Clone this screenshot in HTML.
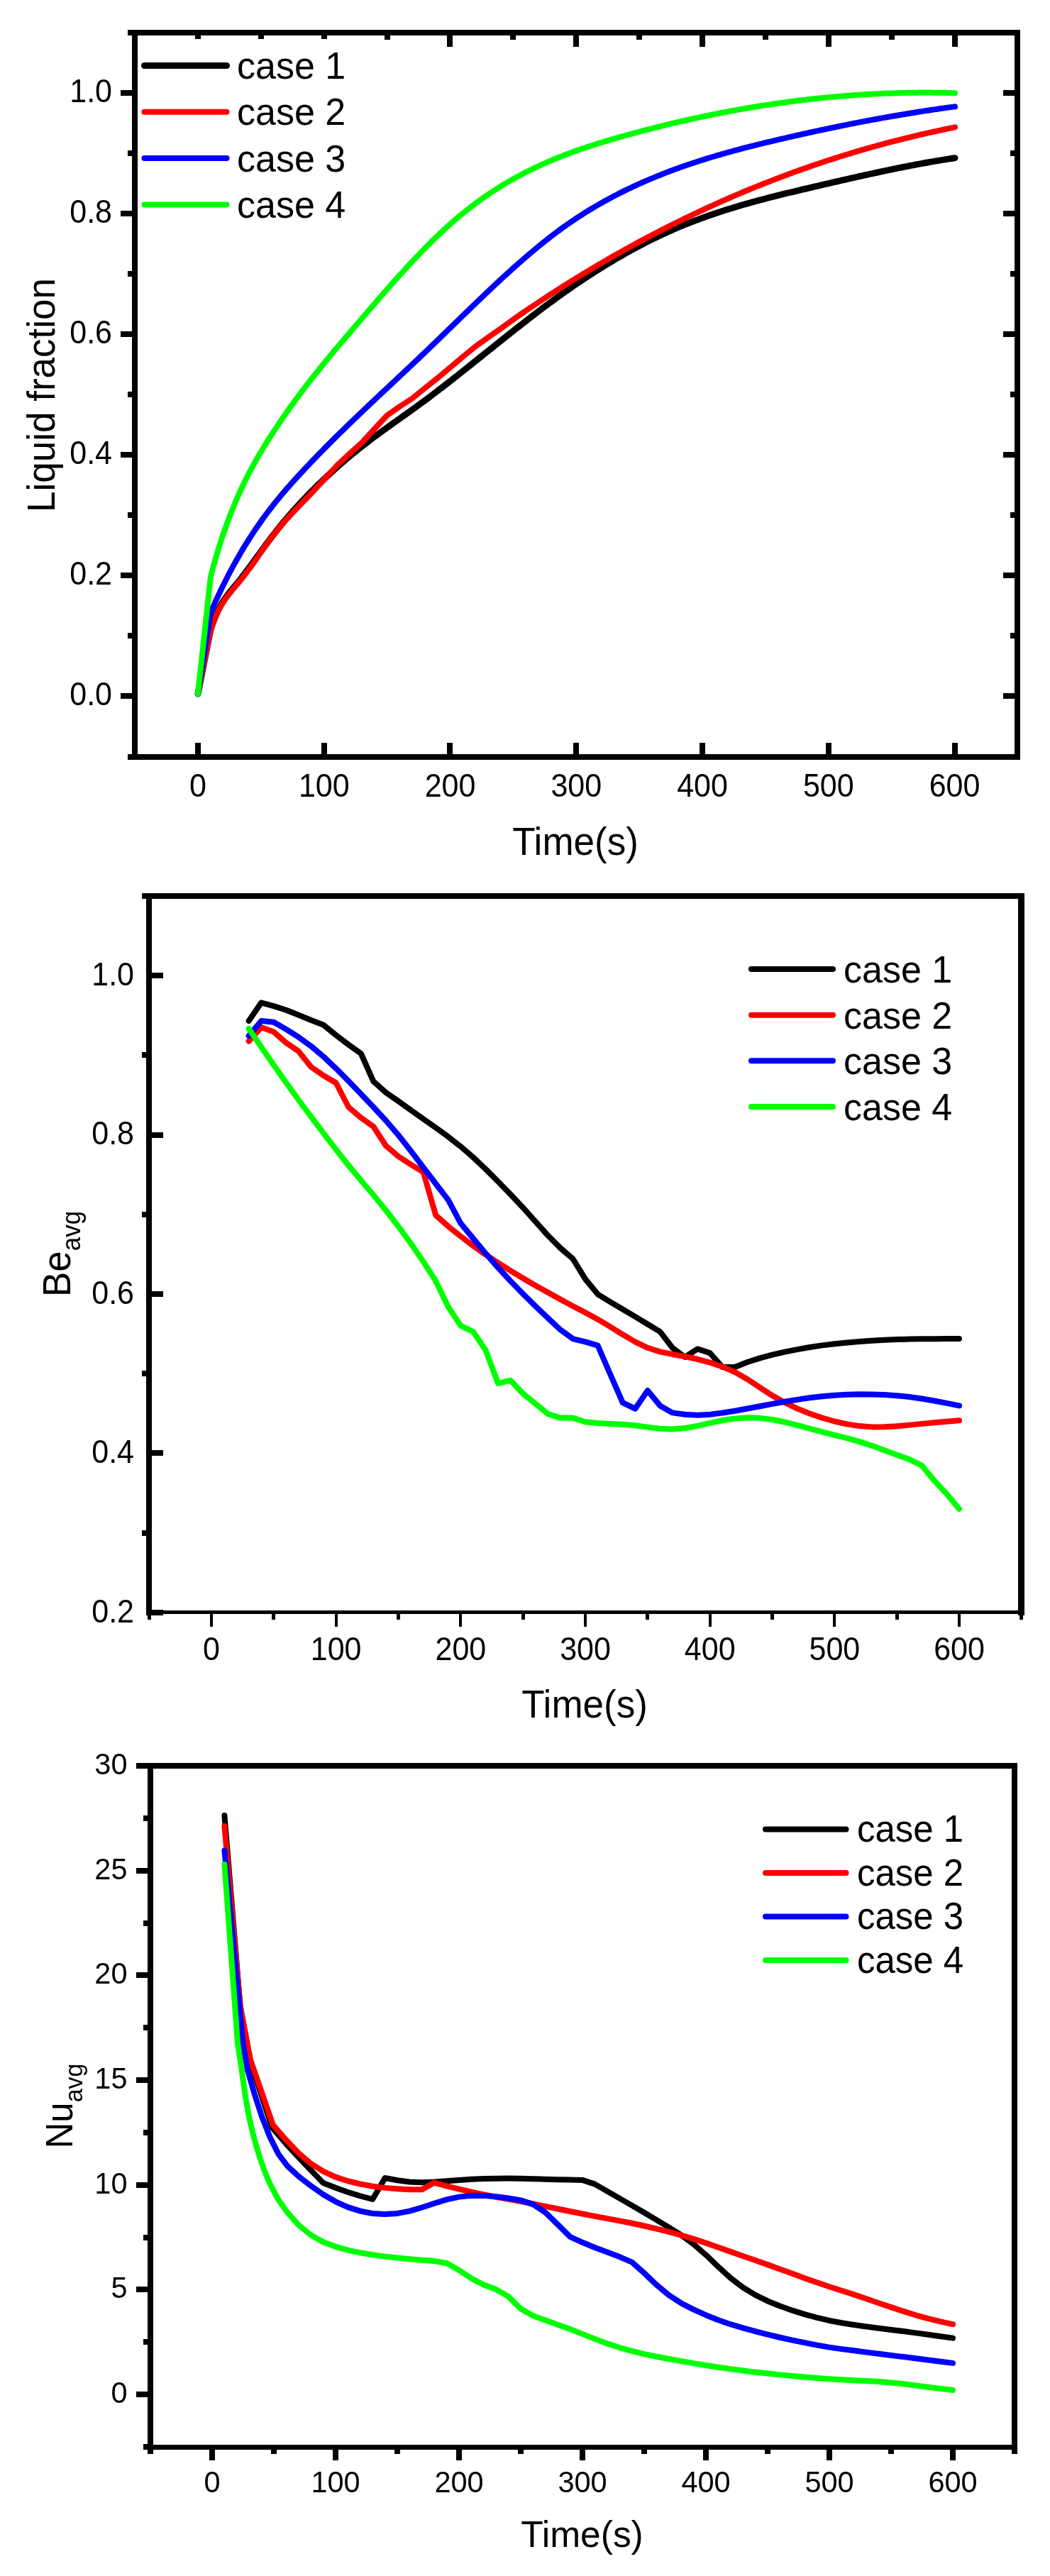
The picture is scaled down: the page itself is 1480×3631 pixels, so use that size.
<!DOCTYPE html>
<html><head><meta charset="utf-8"><style>
html,body{margin:0;padding:0;background:#fff;overflow:hidden;}
svg{display:block;}
svg{will-change:transform;}
text{font-family:'Liberation Sans', sans-serif;fill:#000;}
</style></head><body>
<svg width="1480" height="3631" viewBox="0 0 1480 3631">
<rect x="0" y="0" width="1480" height="3631" fill="#fff"/>
<path d="M279,978 L296.8,887.634 L299.8,878.782 L302.8,870.902 L305.8,863.898 L308.8,857.669 L311.8,852.118 L314.8,847.144 L317.8,842.65 L320.8,838.536 L323.8,834.703 L326.8,831.053 L329.8,827.486 L332.8,823.905 L335.8,820.231 L338.8,816.462 L341.8,812.609 L344.8,808.682 L347.8,804.692 L350.8,800.651 L353.8,796.57 L356.8,792.46 L359.8,788.331 L362.8,784.196 L365.8,780.064 L368.8,775.944 L371.8,771.844 L374.8,767.77 L377.8,763.731 L380.8,759.735 L383.8,755.788 L386.8,751.898 L389.8,748.07 L392.8,744.303 L395.8,740.595 L398.8,736.945 L401.8,733.35 L404.8,729.81 L407.8,726.321 L410.8,722.884 L413.8,719.495 L416.8,716.154 L419.8,712.858 L422.8,709.607 L425.8,706.398 L428.8,703.229 L431.8,700.1 L434.8,697.008 L437.8,693.951 L440.8,690.928 L443.8,687.938 L446.8,684.978 L449.8,682.049 L452.8,679.15 L455.8,676.281 L458.8,673.441 L461.8,670.63 L464.8,667.849 L467.8,665.097 L470.8,662.374 L473.8,659.679 L476.8,657.012 L479.8,654.373 L482.8,651.763 L485.8,649.179 L488.8,646.624 L491.8,644.095 L494.8,641.594 L497.8,639.119 L500.8,636.671 L503.8,634.249 L506.8,631.853 L509.8,629.483 L512.8,627.138 L515.8,624.818 L518.8,622.521 L521.8,620.245 L524.8,617.989 L527.8,615.751 L530.8,613.531 L533.8,611.326 L536.8,609.135 L539.8,606.956 L542.8,604.789 L545.8,602.631 L548.8,600.482 L551.8,598.339 L554.8,596.201 L557.8,594.068 L560.8,591.936 L563.8,589.806 L566.8,587.674 L569.8,585.541 L572.8,583.404 L575.8,581.263 L578.8,579.114 L581.8,576.958 L584.8,574.793 L587.8,572.616 L590.8,570.427 L593.8,568.226 L596.8,566.011 L599.8,563.783 L602.8,561.544 L605.8,559.293 L608.8,557.031 L611.8,554.758 L614.8,552.475 L617.8,550.182 L620.8,547.879 L623.8,545.568 L626.8,543.247 L629.8,540.919 L632.8,538.582 L635.8,536.239 L638.8,533.888 L641.8,531.531 L644.8,529.167 L647.8,526.798 L650.8,524.424 L653.8,522.045 L656.8,519.661 L659.8,517.273 L662.8,514.882 L665.8,512.488 L668.8,510.091 L671.8,507.691 L674.8,505.29 L677.8,502.887 L680.8,500.483 L683.8,498.079 L686.8,495.674 L689.8,493.269 L692.8,490.866 L695.8,488.463 L698.8,486.061 L701.8,483.662 L704.8,481.265 L707.8,478.871 L710.8,476.479 L713.8,474.092 L716.8,471.708 L719.8,469.329 L722.8,466.955 L725.8,464.586 L728.8,462.222 L731.8,459.865 L734.8,457.515 L737.8,455.171 L740.8,452.835 L743.8,450.506 L746.8,448.186 L749.8,445.874 L752.8,443.572 L755.8,441.279 L758.8,438.996 L761.8,436.723 L764.8,434.461 L767.8,432.21 L770.8,429.971 L773.8,427.744 L776.8,425.529 L779.8,423.328 L782.8,421.139 L785.8,418.964 L788.8,416.804 L791.8,414.657 L794.8,412.524 L797.8,410.406 L800.8,408.301 L803.8,406.211 L806.8,404.136 L809.8,402.075 L812.8,400.028 L815.8,397.996 L818.8,395.979 L821.8,393.976 L824.8,391.988 L827.8,390.015 L830.8,388.057 L833.8,386.113 L836.8,384.185 L839.8,382.272 L842.8,380.374 L845.8,378.492 L848.8,376.624 L851.8,374.772 L854.8,372.936 L857.8,371.115 L860.8,369.31 L863.8,367.52 L866.8,365.746 L869.8,363.988 L872.8,362.245 L875.8,360.519 L878.8,358.808 L881.8,357.114 L884.8,355.436 L887.8,353.774 L890.8,352.128 L893.8,350.498 L896.8,348.885 L899.8,347.289 L902.8,345.708 L905.8,344.145 L908.8,342.598 L911.8,341.068 L914.8,339.555 L917.8,338.058 L920.8,336.579 L923.8,335.116 L926.8,333.671 L929.8,332.242 L932.8,330.831 L935.8,329.437 L938.8,328.061 L941.8,326.702 L944.8,325.36 L947.8,324.036 L950.8,322.729 L953.8,321.44 L956.8,320.169 L959.8,318.914 L962.8,317.677 L965.8,316.455 L968.8,315.251 L971.8,314.062 L974.8,312.889 L977.8,311.731 L980.8,310.589 L983.8,309.461 L986.8,308.349 L989.8,307.251 L992.8,306.167 L995.8,305.097 L998.8,304.041 L1001.8,302.998 L1004.8,301.968 L1007.8,300.952 L1010.8,299.948 L1013.8,298.956 L1016.8,297.977 L1019.8,297.009 L1022.8,296.053 L1025.8,295.109 L1028.8,294.175 L1031.8,293.253 L1034.8,292.341 L1037.8,291.439 L1040.8,290.548 L1043.8,289.666 L1046.8,288.794 L1049.8,287.931 L1052.8,287.077 L1055.8,286.232 L1058.8,285.396 L1061.8,284.567 L1064.8,283.747 L1067.8,282.935 L1070.8,282.13 L1073.8,281.332 L1076.8,280.541 L1079.8,279.757 L1082.8,278.979 L1085.8,278.208 L1088.8,277.442 L1091.8,276.683 L1094.8,275.928 L1097.8,275.179 L1100.8,274.435 L1103.8,273.695 L1106.8,272.96 L1109.8,272.228 L1112.8,271.501 L1115.8,270.777 L1118.8,270.057 L1121.8,269.34 L1124.8,268.625 L1127.8,267.913 L1130.8,267.204 L1133.8,266.496 L1136.8,265.791 L1139.8,265.086 L1142.8,264.384 L1145.8,263.682 L1148.8,262.981 L1151.8,262.28 L1154.8,261.58 L1157.8,260.88 L1160.8,260.181 L1163.8,259.483 L1166.8,258.786 L1169.8,258.09 L1172.8,257.395 L1175.8,256.701 L1178.8,256.008 L1181.8,255.317 L1184.8,254.627 L1187.8,253.939 L1190.8,253.252 L1193.8,252.568 L1196.8,251.885 L1199.8,251.205 L1202.8,250.526 L1205.8,249.85 L1208.8,249.176 L1211.8,248.505 L1214.8,247.836 L1217.8,247.17 L1220.8,246.506 L1223.8,245.846 L1226.8,245.189 L1229.8,244.534 L1232.8,243.883 L1235.8,243.235 L1238.8,242.591 L1241.8,241.95 L1244.8,241.312 L1247.8,240.679 L1250.8,240.049 L1253.8,239.423 L1256.8,238.802 L1259.8,238.184 L1262.8,237.571 L1265.8,236.962 L1268.8,236.357 L1271.8,235.757 L1274.8,235.162 L1277.8,234.572 L1280.8,233.986 L1283.8,233.405 L1286.8,232.83 L1289.8,232.26 L1292.8,231.695 L1295.8,231.135 L1298.8,230.581 L1301.8,230.033 L1304.8,229.49 L1307.8,228.953 L1310.8,228.422 L1313.8,227.897 L1316.8,227.379 L1319.8,226.866 L1322.8,226.36 L1325.8,225.861 L1328.8,225.368 L1331.8,224.881 L1334.8,224.402 L1337.8,223.929 L1340.8,223.463 L1343.8,223.005 L1346,222.673" fill="none" stroke="#000000" stroke-width="9" stroke-linejoin="round" stroke-linecap="round"/>
<path d="M279,978 L296.8,888.47 L299.8,879.831 L302.8,872.109 L305.8,865.214 L308.8,859.055 L311.8,853.543 L314.8,848.587 L317.8,844.098 L320.8,839.985 L323.8,836.159 L326.8,832.529 L329.8,829.006 L332.8,825.499 L335.8,821.925 L338.8,818.256 L341.8,814.493 L344.8,810.641 L347.8,806.7 L350.8,802.675 L353.8,798.567 L356.8,794.378 L359.8,790.113 L362.8,785.773 L365.8,781.363 L368.8,776.923 L371.8,772.516 L374.8,768.209 L377.8,764.034 L380.8,759.985 L383.8,756.052 L386.8,752.227 L389.8,748.499 L392.8,744.862 L395.8,741.309 L398.8,737.832 L401.8,734.424 L404.8,731.078 L407.8,727.788 L410.8,724.545 L413.8,721.344 L416.8,718.177 L419.8,715.037 L422.8,711.917 L425.8,708.81 L428.8,705.709 L431.8,702.607 L434.8,699.496 L437.8,696.37 L440.8,693.222 L443.8,690.045 L446.8,686.832 L449.8,683.584 L452.8,680.311 L455.8,677.02 L458.8,673.72 L461.8,670.418 L464.8,667.124 L467.8,663.845 L470.8,660.59 L473.8,657.367 L474.5,656.4 L492.3,640 L510.1,624 L527.9,604.5 L545.6,585.5 L563.4,573 L581.2,561.5 L599,547 L616.7,533 L634.5,518 L652.3,503 L670,488.5 L687.8,475.8 L705.6,463.2 L723.4,450.5 L731.8,444.459 L734.8,442.402 L737.8,440.352 L740.8,438.311 L743.8,436.278 L746.8,434.253 L749.8,432.237 L752.8,430.228 L755.8,428.227 L758.8,426.235 L761.8,424.25 L764.8,422.274 L767.8,420.305 L770.8,418.345 L773.8,416.393 L776.8,414.448 L779.8,412.512 L782.8,410.583 L785.8,408.663 L788.8,406.75 L791.8,404.846 L794.8,402.949 L797.8,401.061 L800.8,399.18 L803.8,397.307 L806.8,395.443 L809.8,393.586 L812.8,391.737 L815.8,389.895 L818.8,388.062 L821.8,386.237 L824.8,384.419 L827.8,382.61 L830.8,380.808 L833.8,379.014 L836.8,377.227 L839.8,375.449 L842.8,373.678 L845.8,371.915 L848.8,370.16 L851.8,368.413 L854.8,366.674 L857.8,364.942 L860.8,363.218 L863.8,361.501 L866.8,359.793 L869.8,358.092 L872.8,356.399 L875.8,354.713 L878.8,353.035 L881.8,351.365 L884.8,349.703 L887.8,348.048 L890.8,346.401 L893.8,344.761 L896.8,343.129 L899.8,341.505 L902.8,339.888 L905.8,338.279 L908.8,336.678 L911.8,335.084 L914.8,333.497 L917.8,331.919 L920.8,330.347 L923.8,328.784 L926.8,327.228 L929.8,325.679 L932.8,324.138 L935.8,322.604 L938.8,321.078 L941.8,319.559 L944.8,318.048 L947.8,316.544 L950.8,315.048 L953.8,313.559 L956.8,312.078 L959.8,310.604 L962.8,309.137 L965.8,307.678 L968.8,306.226 L971.8,304.782 L974.8,303.345 L977.8,301.915 L980.8,300.493 L983.8,299.078 L986.8,297.671 L989.8,296.27 L992.8,294.878 L995.8,293.492 L998.8,292.114 L1001.8,290.743 L1004.8,289.379 L1007.8,288.022 L1010.8,286.673 L1013.8,285.331 L1016.8,283.997 L1019.8,282.669 L1022.8,281.349 L1025.8,280.036 L1028.8,278.73 L1031.8,277.431 L1034.8,276.14 L1037.8,274.856 L1040.8,273.579 L1043.8,272.309 L1046.8,271.046 L1049.8,269.79 L1052.8,268.542 L1055.8,267.3 L1058.8,266.066 L1061.8,264.839 L1064.8,263.619 L1067.8,262.406 L1070.8,261.2 L1073.8,260.001 L1076.8,258.809 L1079.8,257.625 L1082.8,256.447 L1085.8,255.276 L1088.8,254.112 L1091.8,252.956 L1094.8,251.806 L1097.8,250.663 L1100.8,249.528 L1103.8,248.399 L1106.8,247.277 L1109.8,246.162 L1112.8,245.054 L1115.8,243.953 L1118.8,242.859 L1121.8,241.772 L1124.8,240.692 L1127.8,239.619 L1130.8,238.552 L1133.8,237.492 L1136.8,236.44 L1139.8,235.394 L1142.8,234.355 L1145.8,233.323 L1148.8,232.297 L1151.8,231.279 L1154.8,230.267 L1157.8,229.262 L1160.8,228.264 L1163.8,227.272 L1166.8,226.288 L1169.8,225.31 L1172.8,224.339 L1175.8,223.374 L1178.8,222.417 L1181.8,221.466 L1184.8,220.522 L1187.8,219.584 L1190.8,218.653 L1193.8,217.729 L1196.8,216.812 L1199.8,215.901 L1202.8,214.997 L1205.8,214.099 L1208.8,213.208 L1211.8,212.324 L1214.8,211.446 L1217.8,210.575 L1220.8,209.711 L1223.8,208.853 L1226.8,208.002 L1229.8,207.157 L1232.8,206.319 L1235.8,205.487 L1238.8,204.662 L1241.8,203.844 L1244.8,203.032 L1247.8,202.226 L1250.8,201.427 L1253.8,200.635 L1256.8,199.849 L1259.8,199.069 L1262.8,198.296 L1265.8,197.529 L1268.8,196.769 L1271.8,196.015 L1274.8,195.268 L1277.8,194.527 L1280.8,193.793 L1283.8,193.064 L1286.8,192.343 L1289.8,191.627 L1292.8,190.918 L1295.8,190.216 L1298.8,189.519 L1301.8,188.829 L1304.8,188.146 L1307.8,187.469 L1310.8,186.798 L1313.8,186.133 L1316.8,185.474 L1319.8,184.822 L1322.8,184.177 L1325.8,183.537 L1328.8,182.904 L1331.8,182.277 L1334.8,181.656 L1337.8,181.041 L1340.8,180.433 L1343.8,179.83 L1346,179.393" fill="none" stroke="#ff0000" stroke-width="8" stroke-linejoin="round" stroke-linecap="round"/>
<path d="M279,978 L296.8,863.657 L299.8,856.805 L302.8,850.1 L305.8,843.538 L308.8,837.116 L311.8,830.832 L314.8,824.682 L317.8,818.664 L320.8,812.775 L323.8,807.011 L326.8,801.37 L329.8,795.849 L332.8,790.445 L335.8,785.155 L338.8,779.976 L341.8,774.905 L344.8,769.939 L347.8,765.076 L350.8,760.312 L353.8,755.645 L356.8,751.071 L359.8,746.588 L362.8,742.192 L365.8,737.881 L368.8,733.652 L371.8,729.502 L374.8,725.428 L377.8,721.427 L380.8,717.496 L383.8,713.632 L386.8,709.833 L389.8,706.095 L392.8,702.415 L395.8,698.791 L398.8,695.219 L401.8,691.697 L404.8,688.222 L407.8,684.79 L410.8,681.399 L413.8,678.047 L416.8,674.729 L419.8,671.443 L422.8,668.187 L425.8,664.957 L428.8,661.75 L431.8,658.563 L434.8,655.395 L437.8,652.244 L440.8,649.111 L443.8,645.995 L446.8,642.896 L449.8,639.812 L452.8,636.744 L455.8,633.691 L458.8,630.652 L461.8,627.628 L464.8,624.617 L467.8,621.62 L470.8,618.635 L473.8,615.663 L476.8,612.702 L479.8,609.753 L482.8,606.815 L485.8,603.887 L488.8,600.97 L491.8,598.062 L494.8,595.163 L497.8,592.273 L500.8,589.391 L503.8,586.517 L506.8,583.65 L509.8,580.789 L512.8,577.936 L515.8,575.088 L518.8,572.246 L521.8,569.408 L524.8,566.575 L527.8,563.747 L530.8,560.922 L533.8,558.1 L536.8,555.281 L539.8,552.464 L542.8,549.649 L545.8,546.835 L548.8,544.022 L551.8,541.21 L554.8,538.397 L557.8,535.584 L560.8,532.77 L563.8,529.955 L566.8,527.138 L569.8,524.319 L572.8,521.496 L575.8,518.671 L578.8,515.842 L581.8,513.009 L584.8,510.171 L587.8,507.328 L590.8,504.48 L593.8,501.625 L596.8,498.764 L599.8,495.897 L602.8,493.022 L605.8,490.14 L608.8,487.252 L611.8,484.358 L614.8,481.46 L617.8,478.556 L620.8,475.649 L623.8,472.738 L626.8,469.825 L629.8,466.909 L632.8,463.992 L635.8,461.073 L638.8,458.154 L641.8,455.235 L644.8,452.316 L647.8,449.399 L650.8,446.484 L653.8,443.57 L656.8,440.66 L659.8,437.753 L662.8,434.85 L665.8,431.952 L668.8,429.059 L671.8,426.172 L674.8,423.291 L677.8,420.417 L680.8,417.55 L683.8,414.692 L686.8,411.842 L689.8,409.002 L692.8,406.171 L695.8,403.35 L698.8,400.54 L701.8,397.742 L704.8,394.956 L707.8,392.183 L710.8,389.423 L713.8,386.676 L716.8,383.944 L719.8,381.227 L722.8,378.525 L725.8,375.839 L728.8,373.17 L731.8,370.519 L734.8,367.885 L737.8,365.269 L740.8,362.672 L743.8,360.095 L746.8,357.538 L749.8,355.001 L752.8,352.486 L755.8,349.993 L758.8,347.522 L761.8,345.073 L764.8,342.649 L767.8,340.248 L770.8,337.872 L773.8,335.522 L776.8,333.197 L779.8,330.898 L782.8,328.627 L785.8,326.383 L788.8,324.167 L791.8,321.979 L794.8,319.821 L797.8,317.69 L800.8,315.588 L803.8,313.513 L806.8,311.466 L809.8,309.446 L812.8,307.452 L815.8,305.485 L818.8,303.544 L821.8,301.628 L824.8,299.737 L827.8,297.872 L830.8,296.031 L833.8,294.214 L836.8,292.422 L839.8,290.653 L842.8,288.907 L845.8,287.184 L848.8,285.483 L851.8,283.805 L854.8,282.149 L857.8,280.514 L860.8,278.901 L863.8,277.308 L866.8,275.736 L869.8,274.185 L872.8,272.653 L875.8,271.14 L878.8,269.647 L881.8,268.172 L884.8,266.716 L887.8,265.278 L890.8,263.858 L893.8,262.456 L896.8,261.071 L899.8,259.703 L902.8,258.351 L905.8,257.017 L908.8,255.699 L911.8,254.397 L914.8,253.111 L917.8,251.841 L920.8,250.587 L923.8,249.348 L926.8,248.124 L929.8,246.915 L932.8,245.722 L935.8,244.542 L938.8,243.377 L941.8,242.226 L944.8,241.089 L947.8,239.966 L950.8,238.857 L953.8,237.76 L956.8,236.677 L959.8,235.607 L962.8,234.549 L965.8,233.504 L968.8,232.471 L971.8,231.45 L974.8,230.441 L977.8,229.444 L980.8,228.458 L983.8,227.483 L986.8,226.52 L989.8,225.567 L992.8,224.625 L995.8,223.693 L998.8,222.771 L1001.8,221.859 L1004.8,220.957 L1007.8,220.065 L1010.8,219.182 L1013.8,218.307 L1016.8,217.442 L1019.8,216.586 L1022.8,215.738 L1025.8,214.898 L1028.8,214.067 L1031.8,213.243 L1034.8,212.427 L1037.8,211.619 L1040.8,210.817 L1043.8,210.023 L1046.8,209.235 L1049.8,208.455 L1052.8,207.68 L1055.8,206.912 L1058.8,206.149 L1061.8,205.393 L1064.8,204.642 L1067.8,203.896 L1070.8,203.156 L1073.8,202.42 L1076.8,201.689 L1079.8,200.963 L1082.8,200.241 L1085.8,199.523 L1088.8,198.809 L1091.8,198.098 L1094.8,197.391 L1097.8,196.688 L1100.8,195.987 L1103.8,195.289 L1106.8,194.594 L1109.8,193.903 L1112.8,193.214 L1115.8,192.528 L1118.8,191.845 L1121.8,191.165 L1124.8,190.488 L1127.8,189.814 L1130.8,189.143 L1133.8,188.475 L1136.8,187.811 L1139.8,187.149 L1142.8,186.491 L1145.8,185.836 L1148.8,185.184 L1151.8,184.535 L1154.8,183.889 L1157.8,183.247 L1160.8,182.608 L1163.8,181.972 L1166.8,181.34 L1169.8,180.711 L1172.8,180.085 L1175.8,179.463 L1178.8,178.844 L1181.8,178.228 L1184.8,177.616 L1187.8,177.007 L1190.8,176.402 L1193.8,175.8 L1196.8,175.202 L1199.8,174.607 L1202.8,174.016 L1205.8,173.429 L1208.8,172.845 L1211.8,172.264 L1214.8,171.687 L1217.8,171.114 L1220.8,170.545 L1223.8,169.979 L1226.8,169.417 L1229.8,168.859 L1232.8,168.304 L1235.8,167.753 L1238.8,167.206 L1241.8,166.663 L1244.8,166.123 L1247.8,165.588 L1250.8,165.056 L1253.8,164.528 L1256.8,164.004 L1259.8,163.484 L1262.8,162.968 L1265.8,162.456 L1268.8,161.947 L1271.8,161.443 L1274.8,160.943 L1277.8,160.447 L1280.8,159.955 L1283.8,159.467 L1286.8,158.983 L1289.8,158.503 L1292.8,158.028 L1295.8,157.556 L1298.8,157.089 L1301.8,156.626 L1304.8,156.167 L1307.8,155.712 L1310.8,155.262 L1313.8,154.816 L1316.8,154.374 L1319.8,153.936 L1322.8,153.503 L1325.8,153.074 L1328.8,152.65 L1331.8,152.23 L1334.8,151.814 L1337.8,151.403 L1340.8,150.996 L1343.8,150.594 L1346,150.302" fill="none" stroke="#0000ff" stroke-width="8" stroke-linejoin="round" stroke-linecap="round"/>
<path d="M279,978 L296.8,813.468 L299.8,802.07 L302.8,791.21 L305.8,780.857 L308.8,770.98 L311.8,761.55 L314.8,752.535 L317.8,743.906 L320.8,735.631 L323.8,727.68 L326.8,720.023 L329.8,712.633 L332.8,705.497 L335.8,698.603 L338.8,691.937 L341.8,685.489 L344.8,679.246 L347.8,673.196 L350.8,667.327 L353.8,661.627 L356.8,656.084 L359.8,650.685 L362.8,645.419 L365.8,640.273 L368.8,635.235 L371.8,630.294 L374.8,625.437 L377.8,620.652 L380.8,615.93 L383.8,611.266 L386.8,606.66 L389.8,602.111 L392.8,597.616 L395.8,593.174 L398.8,588.785 L401.8,584.445 L404.8,580.155 L407.8,575.911 L410.8,571.714 L413.8,567.561 L416.8,563.451 L419.8,559.382 L422.8,555.353 L425.8,551.363 L428.8,547.41 L431.8,543.492 L434.8,539.608 L437.8,535.757 L440.8,531.937 L443.8,528.146 L446.8,524.383 L449.8,520.647 L452.8,516.937 L455.8,513.249 L458.8,509.584 L461.8,505.94 L464.8,502.315 L467.8,498.707 L470.8,495.116 L473.8,491.539 L476.8,487.976 L479.8,484.424 L482.8,480.883 L485.8,477.35 L488.8,473.825 L491.8,470.306 L494.8,466.791 L497.8,463.279 L500.8,459.768 L503.8,456.258 L506.8,452.75 L509.8,449.243 L512.8,445.74 L515.8,442.24 L518.8,438.745 L521.8,435.256 L524.8,431.773 L527.8,428.296 L530.8,424.828 L533.8,421.369 L536.8,417.919 L539.8,414.479 L542.8,411.051 L545.8,407.635 L548.8,404.232 L551.8,400.842 L554.8,397.467 L557.8,394.107 L560.8,390.763 L563.8,387.437 L566.8,384.128 L569.8,380.838 L572.8,377.567 L575.8,374.316 L578.8,371.087 L581.8,367.879 L584.8,364.694 L587.8,361.533 L590.8,358.396 L593.8,355.285 L596.8,352.199 L599.8,349.14 L602.8,346.109 L605.8,343.107 L608.8,340.133 L611.8,337.19 L614.8,334.278 L617.8,331.398 L620.8,328.55 L623.8,325.735 L626.8,322.955 L629.8,320.21 L632.8,317.501 L635.8,314.829 L638.8,312.194 L641.8,309.597 L644.8,307.039 L647.8,304.519 L650.8,302.036 L653.8,299.591 L656.8,297.183 L659.8,294.81 L662.8,292.474 L665.8,290.174 L668.8,287.908 L671.8,285.677 L674.8,283.481 L677.8,281.318 L680.8,279.189 L683.8,277.092 L686.8,275.029 L689.8,272.997 L692.8,270.998 L695.8,269.029 L698.8,267.092 L701.8,265.185 L704.8,263.309 L707.8,261.462 L710.8,259.644 L713.8,257.855 L716.8,256.095 L719.8,254.363 L722.8,252.658 L725.8,250.981 L728.8,249.33 L731.8,247.706 L734.8,246.108 L737.8,244.535 L740.8,242.987 L743.8,241.464 L746.8,239.966 L749.8,238.491 L752.8,237.04 L755.8,235.612 L758.8,234.206 L761.8,232.823 L764.8,231.461 L767.8,230.121 L770.8,228.802 L773.8,227.503 L776.8,226.225 L779.8,224.966 L782.8,223.727 L785.8,222.506 L788.8,221.304 L791.8,220.12 L794.8,218.953 L797.8,217.804 L800.8,216.672 L803.8,215.556 L806.8,214.456 L809.8,213.372 L812.8,212.302 L815.8,211.248 L818.8,210.208 L821.8,209.181 L824.8,208.168 L827.8,207.169 L830.8,206.181 L833.8,205.206 L836.8,204.243 L839.8,203.292 L842.8,202.351 L845.8,201.421 L848.8,200.501 L851.8,199.591 L854.8,198.69 L857.8,197.798 L860.8,196.914 L863.8,196.039 L866.8,195.171 L869.8,194.31 L872.8,193.457 L875.8,192.609 L878.8,191.768 L881.8,190.932 L884.8,190.102 L887.8,189.277 L890.8,188.458 L893.8,187.644 L896.8,186.835 L899.8,186.032 L902.8,185.234 L905.8,184.442 L908.8,183.655 L911.8,182.874 L914.8,182.098 L917.8,181.328 L920.8,180.563 L923.8,179.804 L926.8,179.05 L929.8,178.302 L932.8,177.559 L935.8,176.822 L938.8,176.09 L941.8,175.364 L944.8,174.644 L947.8,173.929 L950.8,173.219 L953.8,172.516 L956.8,171.817 L959.8,171.125 L962.8,170.438 L965.8,169.756 L968.8,169.08 L971.8,168.41 L974.8,167.746 L977.8,167.087 L980.8,166.433 L983.8,165.786 L986.8,165.144 L989.8,164.507 L992.8,163.877 L995.8,163.252 L998.8,162.632 L1001.8,162.019 L1004.8,161.411 L1007.8,160.809 L1010.8,160.212 L1013.8,159.621 L1016.8,159.036 L1019.8,158.457 L1022.8,157.883 L1025.8,157.315 L1028.8,156.753 L1031.8,156.197 L1034.8,155.646 L1037.8,155.102 L1040.8,154.563 L1043.8,154.029 L1046.8,153.502 L1049.8,152.98 L1052.8,152.464 L1055.8,151.954 L1058.8,151.45 L1061.8,150.952 L1064.8,150.459 L1067.8,149.973 L1070.8,149.492 L1073.8,149.017 L1076.8,148.548 L1079.8,148.084 L1082.8,147.627 L1085.8,147.176 L1088.8,146.73 L1091.8,146.29 L1094.8,145.857 L1097.8,145.429 L1100.8,145.007 L1103.8,144.591 L1106.8,144.181 L1109.8,143.777 L1112.8,143.379 L1115.8,142.986 L1118.8,142.6 L1121.8,142.22 L1124.8,141.846 L1127.8,141.477 L1130.8,141.115 L1133.8,140.759 L1136.8,140.408 L1139.8,140.064 L1142.8,139.726 L1145.8,139.393 L1148.8,139.067 L1151.8,138.747 L1154.8,138.433 L1157.8,138.125 L1160.8,137.823 L1163.8,137.527 L1166.8,137.237 L1169.8,136.953 L1172.8,136.676 L1175.8,136.404 L1178.8,136.139 L1181.8,135.879 L1184.8,135.626 L1187.8,135.379 L1190.8,135.138 L1193.8,134.903 L1196.8,134.674 L1199.8,134.452 L1202.8,134.235 L1205.8,134.025 L1208.8,133.821 L1211.8,133.623 L1214.8,133.431 L1217.8,133.246 L1220.8,133.067 L1223.8,132.894 L1226.8,132.727 L1229.8,132.566 L1232.8,132.412 L1235.8,132.264 L1238.8,132.122 L1241.8,131.986 L1244.8,131.857 L1247.8,131.733 L1250.8,131.617 L1253.8,131.506 L1256.8,131.402 L1259.8,131.304 L1262.8,131.212 L1265.8,131.127 L1268.8,131.048 L1271.8,130.975 L1274.8,130.908 L1277.8,130.848 L1280.8,130.795 L1283.8,130.747 L1286.8,130.706 L1289.8,130.672 L1292.8,130.643 L1295.8,130.621 L1298.8,130.606 L1301.8,130.597 L1304.8,130.594 L1307.8,130.598 L1310.8,130.608 L1313.8,130.624 L1316.8,130.647 L1319.8,130.677 L1322.8,130.712 L1325.8,130.755 L1328.8,130.803 L1331.8,130.859 L1334.8,130.92 L1337.8,130.988 L1340.8,131.063 L1343.8,131.144 L1346,131.208" fill="none" stroke="#00ff00" stroke-width="8" stroke-linejoin="round" stroke-linecap="round"/>
<rect x="194" y="55" width="300" height="250" fill="#fff"/>
<rect x="180" y="42" width="1258" height="8" fill="#000"/>
<rect x="180" y="1063" width="1258" height="8" fill="#000"/>
<rect x="186" y="42" width="8" height="1029" fill="#000"/>
<rect x="1430" y="42" width="8" height="1029" fill="#000"/>
<rect x="170" y="977" width="16" height="8" fill="#000"/>
<rect x="1414" y="977" width="16" height="8" fill="#000"/>
<text transform="translate(158,994.24) scale(1,1.06)" font-size="43" text-anchor="end">0.0</text>
<rect x="180" y="892" width="6" height="8" fill="#000"/>
<rect x="1424" y="892" width="6" height="8" fill="#000"/>
<rect x="170" y="807" width="16" height="8" fill="#000"/>
<rect x="1414" y="807" width="16" height="8" fill="#000"/>
<text transform="translate(158,824.16) scale(1,1.06)" font-size="43" text-anchor="end">0.2</text>
<rect x="180" y="722" width="6" height="8" fill="#000"/>
<rect x="1424" y="722" width="6" height="8" fill="#000"/>
<rect x="170" y="637" width="16" height="8" fill="#000"/>
<rect x="1414" y="637" width="16" height="8" fill="#000"/>
<text transform="translate(158,654.08) scale(1,1.06)" font-size="43" text-anchor="end">0.4</text>
<rect x="180" y="552" width="6" height="8" fill="#000"/>
<rect x="1424" y="552" width="6" height="8" fill="#000"/>
<rect x="170" y="467" width="16" height="8" fill="#000"/>
<rect x="1414" y="467" width="16" height="8" fill="#000"/>
<text transform="translate(158,484) scale(1,1.06)" font-size="43" text-anchor="end">0.6</text>
<rect x="180" y="382" width="6" height="8" fill="#000"/>
<rect x="1424" y="382" width="6" height="8" fill="#000"/>
<rect x="170" y="297" width="16" height="8" fill="#000"/>
<rect x="1414" y="297" width="16" height="8" fill="#000"/>
<text transform="translate(158,313.92) scale(1,1.06)" font-size="43" text-anchor="end">0.8</text>
<rect x="180" y="212" width="6" height="8" fill="#000"/>
<rect x="1424" y="212" width="6" height="8" fill="#000"/>
<rect x="170" y="127" width="16" height="8" fill="#000"/>
<rect x="1414" y="127" width="16" height="8" fill="#000"/>
<text transform="translate(158,143.84) scale(1,1.06)" font-size="43" text-anchor="end">1.0</text>
<rect x="275" y="1047" width="8" height="16" fill="#000"/>
<rect x="275" y="50" width="8" height="16" fill="#000"/>
<text transform="translate(279,1122.5) scale(1,1.06)" font-size="43" text-anchor="middle">0</text>
<rect x="364" y="50" width="8" height="6" fill="#000"/>
<rect x="453" y="1047" width="8" height="16" fill="#000"/>
<rect x="453" y="50" width="8" height="16" fill="#000"/>
<text transform="translate(456.75,1122.5) scale(1,1.06)" font-size="43" text-anchor="middle">100</text>
<rect x="542" y="50" width="8" height="6" fill="#000"/>
<rect x="630" y="1047" width="8" height="16" fill="#000"/>
<rect x="630" y="50" width="8" height="16" fill="#000"/>
<text transform="translate(634.5,1122.5) scale(1,1.06)" font-size="43" text-anchor="middle">200</text>
<rect x="719" y="50" width="8" height="6" fill="#000"/>
<rect x="808" y="1047" width="8" height="16" fill="#000"/>
<rect x="808" y="50" width="8" height="16" fill="#000"/>
<text transform="translate(812.25,1122.5) scale(1,1.06)" font-size="43" text-anchor="middle">300</text>
<rect x="897" y="50" width="8" height="6" fill="#000"/>
<rect x="986" y="1047" width="8" height="16" fill="#000"/>
<rect x="986" y="50" width="8" height="16" fill="#000"/>
<text transform="translate(990,1122.5) scale(1,1.06)" font-size="43" text-anchor="middle">400</text>
<rect x="1075" y="50" width="8" height="6" fill="#000"/>
<rect x="1164" y="1047" width="8" height="16" fill="#000"/>
<rect x="1164" y="50" width="8" height="16" fill="#000"/>
<text transform="translate(1167.75,1122.5) scale(1,1.06)" font-size="43" text-anchor="middle">500</text>
<rect x="1253" y="50" width="8" height="6" fill="#000"/>
<rect x="1342" y="1047" width="8" height="16" fill="#000"/>
<rect x="1342" y="50" width="8" height="16" fill="#000"/>
<text transform="translate(1345.5,1122.5) scale(1,1.06)" font-size="43" text-anchor="middle">600</text>
<rect x="194" y="55" width="300" height="12" fill="#fff"/>
<text transform="translate(811,1205) scale(1,1.04)" font-size="53" text-anchor="middle">Time(s)</text>
<text transform="translate(77,557) rotate(-90) scale(1,1.04)" font-size="53" text-anchor="middle">Liquid fraction</text>
<path d="M203.5,92.5 L319.5,92.5" fill="none" stroke="#000000" stroke-width="9" stroke-linejoin="round" stroke-linecap="round"/>
<text transform="translate(334,111) scale(1,1.04)" font-size="52" text-anchor="start">case 1</text>
<path d="M203.5,157.8 L319.5,157.8" fill="none" stroke="#ff0000" stroke-width="8" stroke-linejoin="round" stroke-linecap="round"/>
<text transform="translate(334,176.3) scale(1,1.04)" font-size="52" text-anchor="start">case 2</text>
<path d="M203.5,223.1 L319.5,223.1" fill="none" stroke="#0000ff" stroke-width="8" stroke-linejoin="round" stroke-linecap="round"/>
<text transform="translate(334,241.6) scale(1,1.04)" font-size="52" text-anchor="start">case 3</text>
<path d="M203.5,288.4 L319.5,288.4" fill="none" stroke="#00ff00" stroke-width="8" stroke-linejoin="round" stroke-linecap="round"/>
<text transform="translate(334,306.9) scale(1,1.04)" font-size="52" text-anchor="start">case 4</text>
<path d="M350.7,1439 L368.27,1413.3 L385.834,1418.1 L403.401,1423.82 L420.969,1430.78 L438.536,1438.06 L456.1,1444.8 L473.669,1459.09 L491.236,1472.46 L508.8,1485 L526.37,1524.3 L543.94,1540 L561.504,1552.16 L579.071,1564.69 L596.639,1577.24 L614.207,1589.59 L631.773,1602.31 L649.34,1616.09 L666.907,1631.28 L684.473,1647.9 L702.04,1665.47 L719.607,1683.46 L737.173,1702.16 L754.741,1721.87 L772.309,1741.52 L789.876,1759.11 L807.44,1774.3 L825.01,1802.9 L842.58,1824.3 L860.144,1835.13 L877.711,1845.52 L895.279,1855.85 L912.846,1866.46 L930.41,1877.1 L947.98,1900 L965.55,1912.9 L983.11,1901.4 L1000.68,1907.1 L1018.25,1927 L1035.81,1927 L1053.38,1920 L1070.95,1914.43 L1088.51,1909.67 L1106.08,1905.67 L1123.65,1902.09 L1141.22,1898.97 L1158.78,1896.36 L1176.35,1894.19 L1193.92,1892.44 L1211.48,1891 L1229.05,1889.78 L1246.62,1888.79 L1264.18,1888.06 L1281.75,1887.56 L1299.32,1887.27 L1316.89,1887.14 L1334.45,1887.11 L1352.02,1887.1" fill="none" stroke="#000000" stroke-width="8" stroke-linejoin="round" stroke-linecap="round"/>
<path d="M350.7,1467.6 L368.27,1448.1 L385.83,1454.4 L403.4,1469.9 L420.97,1481.9 L438.54,1504 L456.1,1516 L473.67,1526.5 L491.24,1560.5 L508.8,1575.5 L526.37,1588 L543.94,1615 L561.5,1630 L579.07,1641.4 L596.64,1652 L614.21,1712.9 L631.77,1728.6 L649.339,1742.69 L666.907,1756.08 L684.473,1768.4 L702.04,1779.97 L719.607,1791.1 L737.173,1801.75 L754.741,1811.93 L772.309,1821.81 L789.877,1831.5 L807.443,1840.91 L825.01,1850.09 L842.577,1859.65 L860.143,1870.12 L877.711,1881.06 L895.279,1891.38 L912.847,1899.78 L930.413,1905.41 L947.98,1908.94 L965.547,1912 L983.113,1915.78 L1000.68,1920.56 L1018.25,1926.43 L1035.81,1934.05 L1053.38,1944.02 L1070.95,1955.64 L1088.51,1967.08 L1106.08,1977.01 L1123.65,1985.35 L1141.22,1992.47 L1158.78,1998.5 L1176.35,2003.49 L1193.92,2007.41 L1211.48,2010.09 L1229.05,2011.38 L1246.62,2011.34 L1264.18,2010.26 L1281.75,2008.62 L1299.32,2006.86 L1316.89,2005.19 L1334.45,2003.69 L1352.02,2002.3" fill="none" stroke="#ff0000" stroke-width="8" stroke-linejoin="round" stroke-linecap="round"/>
<path d="M350.7,1460.1 L368.27,1439 L385.83,1440.7 L403.4,1450.87 L420.969,1461.91 L438.537,1474.68 L456.103,1489.51 L473.67,1506.04 L491.237,1523.77 L508.803,1542.08 L526.37,1560.49 L543.937,1579.5 L561.503,1600.01 L579.071,1622.19 L596.639,1645.31 L614.206,1668.48 L631.77,1691.4 L649.34,1724.3 L666.907,1745.66 L684.473,1766.69 L702.04,1786.79 L719.607,1805.72 L737.173,1823.76 L754.741,1841.1 L772.31,1857.86 L789.88,1874.3 L807.44,1887.1 L825.01,1891.4 L842.58,1896.6 L860.14,1937 L877.71,1977.1 L895.28,1985.7 L912.85,1960 L930.41,1981.4 L947.98,1991.4 L965.547,1993.75 L983.113,1994.65 L1000.68,1993.76 L1018.25,1991.56 L1035.81,1988.69 L1053.38,1985.53 L1070.95,1982.21 L1088.51,1978.91 L1106.08,1975.79 L1123.65,1972.9 L1141.22,1970.29 L1158.78,1968.17 L1176.35,1966.67 L1193.92,1965.75 L1211.48,1965.34 L1229.05,1965.42 L1246.62,1965.99 L1264.18,1967.15 L1281.75,1968.97 L1299.32,1971.46 L1316.89,1974.46 L1334.45,1977.83 L1352.02,1981.4" fill="none" stroke="#0000ff" stroke-width="8" stroke-linejoin="round" stroke-linecap="round"/>
<path d="M350.7,1450 L368.267,1475.69 L385.833,1501.19 L403.401,1526.25 L420.969,1550.53 L438.537,1574.12 L456.103,1597.44 L473.67,1620.44 L491.237,1642.65 L508.803,1663.77 L526.37,1684.49 L543.937,1706.04 L561.503,1728.75 L579.071,1752.66 L596.64,1778.37 L614.21,1805.7 L631.77,1842 L649.34,1868.6 L666.91,1877.1 L684.47,1902.9 L702.04,1950 L719.61,1945.7 L737.17,1964.3 L754.74,1978.6 L772.31,1992.9 L789.88,1998.6 L807.44,1998.6 L825.01,2004.3 L842.577,2006.05 L860.143,2007.01 L877.711,2007.76 L895.279,2009.3 L912.847,2011.62 L930.413,2013.71 L947.98,2014.41 L965.547,2013.04 L983.113,2009.82 L1000.68,2005.79 L1018.25,2002.08 L1035.81,1999.46 L1053.38,1998.34 L1070.95,1998.85 L1088.51,2000.97 L1106.08,2004.48 L1123.65,2008.91 L1141.22,2013.66 L1158.78,2018.34 L1176.35,2022.81 L1193.92,2027.22 L1211.48,2032.11 L1229.05,2037.84 L1246.62,2044.19 L1264.18,2050.67 L1281.75,2057.1 L1299.32,2065.7 L1316.89,2087.1 L1334.45,2105.7 L1352.02,2127" fill="none" stroke="#00ff00" stroke-width="8" stroke-linejoin="round" stroke-linecap="round"/>
<rect x="200" y="1259" width="1244" height="8" fill="#000"/>
<rect x="206" y="1259" width="8" height="1018" fill="#000"/>
<rect x="1435" y="1259" width="9" height="1018" fill="#000"/>
<rect x="214" y="2270" width="1221" height="5" fill="#000"/>
<rect x="214" y="2269" width="16" height="8" fill="#000"/>
<text transform="translate(189,2286.5) scale(1,1.06)" font-size="43" text-anchor="end">0.2</text>
<rect x="200" y="2157" width="6" height="8" fill="#000"/>
<rect x="214" y="2044" width="16" height="8" fill="#000"/>
<text transform="translate(189,2062) scale(1,1.06)" font-size="43" text-anchor="end">0.4</text>
<rect x="200" y="1932" width="6" height="8" fill="#000"/>
<rect x="214" y="1820" width="16" height="8" fill="#000"/>
<text transform="translate(189,1837.5) scale(1,1.06)" font-size="43" text-anchor="end">0.6</text>
<rect x="200" y="1708" width="6" height="8" fill="#000"/>
<rect x="214" y="1596" width="16" height="8" fill="#000"/>
<text transform="translate(189,1613) scale(1,1.06)" font-size="43" text-anchor="end">0.8</text>
<rect x="200" y="1483" width="6" height="8" fill="#000"/>
<rect x="214" y="1371" width="16" height="8" fill="#000"/>
<text transform="translate(189,1388.5) scale(1,1.06)" font-size="43" text-anchor="end">1.0</text>
<rect x="200" y="1259" width="6" height="8" fill="#000"/>
<rect x="208" y="2275" width="5" height="8" fill="#000"/>
<rect x="296" y="2275" width="4" height="18" fill="#000"/>
<text transform="translate(298,2339.7) scale(1,1.06)" font-size="43" text-anchor="middle">0</text>
<rect x="383" y="2275" width="5" height="8" fill="#000"/>
<rect x="472" y="2275" width="4" height="18" fill="#000"/>
<text transform="translate(473.67,2339.7) scale(1,1.06)" font-size="43" text-anchor="middle">100</text>
<rect x="559" y="2275" width="5" height="8" fill="#000"/>
<rect x="647" y="2275" width="4" height="18" fill="#000"/>
<text transform="translate(649.34,2339.7) scale(1,1.06)" font-size="43" text-anchor="middle">200</text>
<rect x="735" y="2275" width="5" height="8" fill="#000"/>
<rect x="823" y="2275" width="4" height="18" fill="#000"/>
<text transform="translate(825.01,2339.7) scale(1,1.06)" font-size="43" text-anchor="middle">300</text>
<rect x="910" y="2275" width="5" height="8" fill="#000"/>
<rect x="999" y="2275" width="4" height="18" fill="#000"/>
<text transform="translate(1000.68,2339.7) scale(1,1.06)" font-size="43" text-anchor="middle">400</text>
<rect x="1086" y="2275" width="5" height="8" fill="#000"/>
<rect x="1174" y="2275" width="4" height="18" fill="#000"/>
<text transform="translate(1176.35,2339.7) scale(1,1.06)" font-size="43" text-anchor="middle">500</text>
<rect x="1262" y="2275" width="5" height="8" fill="#000"/>
<rect x="1350" y="2275" width="4" height="18" fill="#000"/>
<text transform="translate(1352.02,2339.7) scale(1,1.06)" font-size="43" text-anchor="middle">600</text>
<rect x="1437" y="2275" width="5" height="8" fill="#000"/>
<text transform="translate(824,2421) scale(1,1.04)" font-size="53" text-anchor="middle">Time(s)</text>
<text transform="translate(99,1767.5) rotate(-90) scale(1,1.04)" font-size="53" text-anchor="middle">Be<tspan font-size="35" dy="13.5">avg</tspan></text>
<path d="M1059,1366 L1174,1366" fill="none" stroke="#000000" stroke-width="8" stroke-linejoin="round" stroke-linecap="round"/>
<text transform="translate(1189,1385) scale(1,1.04)" font-size="52" text-anchor="start">case 1</text>
<path d="M1059,1430.67 L1174,1430.67" fill="none" stroke="#ff0000" stroke-width="8" stroke-linejoin="round" stroke-linecap="round"/>
<text transform="translate(1189,1449.67) scale(1,1.04)" font-size="52" text-anchor="start">case 2</text>
<path d="M1059,1495.34 L1174,1495.34" fill="none" stroke="#0000ff" stroke-width="8" stroke-linejoin="round" stroke-linecap="round"/>
<text transform="translate(1189,1514.34) scale(1,1.04)" font-size="52" text-anchor="start">case 3</text>
<path d="M1059,1560.01 L1174,1560.01" fill="none" stroke="#00ff00" stroke-width="8" stroke-linejoin="round" stroke-linecap="round"/>
<text transform="translate(1189,1579.01) scale(1,1.04)" font-size="52" text-anchor="start">case 4</text>
<path d="M316.4,2559 L338.6,2828 L352.5,2905 L383.5,2999 L403.4,3022 L420.8,3040.81 L438.2,3059.03 L455.6,3077 L473,3083.82 L490.4,3090 L507.8,3095.3 L525.2,3100 L542.6,3070 L560,3073.3 L577.4,3075.56 L594.8,3076.31 L612.2,3075.61 L629.6,3074.29 L647,3072.93 L664.4,3071.8 L681.8,3071.07 L699.2,3070.71 L716.6,3070.62 L734,3070.76 L751.4,3071.17 L768.8,3071.73 L786.2,3072.18 L803.6,3072.51 L821,3072.9 L838.4,3078.6 L855.8,3088.6 L873.2,3098.6 L890.6,3108.63 L908,3118.81 L925.4,3129.16 L942.8,3139.56 L960.2,3150.51 L977.6,3163.26 L995,3178.46 L1012.4,3195.12 L1029.8,3210.99 L1047.2,3224.29 L1064.6,3234.87 L1082,3243.44 L1099.4,3250.56 L1116.8,3256.68 L1134.2,3262.06 L1151.6,3266.84 L1169,3270.97 L1186.4,3274.3 L1203.8,3276.99 L1221.2,3279.44 L1238.6,3281.78 L1256,3283.91 L1273.4,3286.02 L1290.8,3288.34 L1308.2,3290.82 L1325.6,3293.25 L1343,3295.6" fill="none" stroke="#000000" stroke-width="8" stroke-linejoin="round" stroke-linecap="round"/>
<path d="M316.4,2574 L338.6,2828 L352.9,2903 L384.8,2995.2 L402.95,3016.01 L420.725,3034.7 L438.2,3049.69 L455.6,3060.72 L473,3068.59 L490.4,3074.24 L507.8,3078.49 L525.2,3081.69 L542.6,3083.87 L560,3085.27 L577.4,3086.3 L594.8,3086.3 L612.2,3076.6 L629.6,3081.4 L647,3085.65 L664.4,3089.7 L681.8,3093.39 L699.2,3096.71 L716.6,3099.81 L734,3103 L751.4,3106.41 L768.8,3109.94 L786.2,3113.49 L803.6,3117.03 L821,3120.54 L838.4,3123.91 L855.8,3127.13 L873.2,3130.36 L890.6,3133.79 L908,3137.51 L925.4,3141.54 L942.8,3145.91 L960.2,3150.66 L977.6,3155.88 L995,3161.62 L1012.4,3167.72 L1029.8,3173.87 L1047.2,3179.94 L1064.6,3185.98 L1082,3192.13 L1099.4,3198.44 L1116.8,3204.83 L1134.2,3211.16 L1151.6,3217.32 L1169,3223.19 L1186.4,3228.81 L1203.8,3234.43 L1221.2,3240.24 L1238.6,3246.19 L1256,3252.13 L1273.4,3257.89 L1290.8,3263.29 L1308.2,3268.14 L1325.6,3272.38 L1343,3276.2" fill="none" stroke="#ff0000" stroke-width="8" stroke-linejoin="round" stroke-linecap="round"/>
<path d="M316.4,2608.6 L342.4,2880 L349,2918 L358.938,2952.59 L369.362,2984.17 L380.475,3012.36 L392.362,3036.03 L405.712,3053.81 L421.2,3067.9 L438.2,3081.09 L455.6,3093.25 L473,3103.31 L490.4,3111.09 L507.8,3116.68 L525.2,3120.01 L542.6,3121.09 L560,3119.91 L577.4,3116.58 L594.8,3111.52 L612.2,3105.71 L629.6,3100.41 L647,3096.64 L664.4,3094.85 L681.8,3094.88 L699.2,3096.19 L716.6,3098.45 L734,3101.4 L751.4,3107.1 L768.8,3118.6 L786.2,3135.7 L803.6,3152.9 L821,3160.82 L838.4,3167.96 L855.8,3174.39 L873.2,3181.09 L890.6,3188.6 L908,3204 L925.4,3220.64 L942.8,3235.14 L960.2,3246.46 L977.6,3255.38 L995,3263.21 L1012.4,3270.19 L1029.8,3276.17 L1047.2,3281.36 L1064.6,3286.16 L1082,3290.64 L1099.4,3294.75 L1116.8,3298.56 L1134.2,3302.19 L1151.6,3305.6 L1169,3308.61 L1186.4,3311.11 L1203.8,3313.34 L1221.2,3315.6 L1238.6,3317.84 L1256,3319.97 L1273.4,3322.08 L1290.8,3324.31 L1308.2,3326.59 L1325.6,3328.78 L1343,3330.9" fill="none" stroke="#0000ff" stroke-width="8" stroke-linejoin="round" stroke-linecap="round"/>
<path d="M316.4,2628 L335,2880 L340.7,2918 L345.55,2952.59 L351.05,2984.17 L357.744,3012.67 L365.175,3038.03 L372.719,3059.69 L380.919,3079.21 L391.25,3098.66 L404.794,3118.21 L420.963,3136.22 L438.2,3150.53 L455.6,3160.31 L473,3166.79 L490.4,3171.56 L507.8,3175.29 L525.2,3178.23 L542.6,3180.6 L560,3182.58 L577.4,3184.24 L594.8,3185.7 L612.2,3187.1 L629.6,3190 L647,3200 L664.4,3211.44 L681.8,3220.51 L699.2,3227 L716.6,3237.1 L734,3254.3 L751.4,3264.3 L768.8,3270.57 L786.2,3276.69 L803.6,3283.05 L821,3289.9 L838.4,3296.86 L855.8,3303.34 L873.2,3309.06 L890.6,3313.97 L908,3318.15 L925.4,3321.77 L942.8,3325.04 L960.2,3328.13 L977.6,3331.09 L995,3333.97 L1012.4,3336.77 L1029.8,3339.32 L1047.2,3341.59 L1064.6,3343.66 L1082,3345.59 L1099.4,3347.37 L1116.8,3349.02 L1134.2,3350.54 L1151.6,3351.91 L1169,3353.14 L1186.4,3354.21 L1203.8,3355.15 L1221.2,3356.03 L1238.6,3357.05 L1256,3358.42 L1273.4,3360.25 L1290.8,3362.42 L1308.2,3364.69 L1325.6,3366.88 L1343,3369" fill="none" stroke="#00ff00" stroke-width="8" stroke-linejoin="round" stroke-linecap="round"/>
<rect x="192" y="2485" width="1242" height="8" fill="#000"/>
<rect x="208" y="2485" width="8" height="974" fill="#000"/>
<rect x="1426" y="2485" width="8" height="974" fill="#000"/>
<rect x="202" y="3446" width="1232" height="7" fill="#000"/>
<rect x="202" y="3445" width="6" height="8" fill="#000"/>
<rect x="192" y="3371" width="16" height="8" fill="#000"/>
<text transform="translate(179.5,3387) scale(1,1.03)" font-size="41.5" text-anchor="end">0</text>
<rect x="202" y="3297" width="6" height="8" fill="#000"/>
<rect x="192" y="3223" width="16" height="8" fill="#000"/>
<text transform="translate(179.5,3239.34) scale(1,1.03)" font-size="41.5" text-anchor="end">5</text>
<rect x="202" y="3150" width="6" height="8" fill="#000"/>
<rect x="192" y="3076" width="16" height="8" fill="#000"/>
<text transform="translate(179.5,3091.67) scale(1,1.03)" font-size="41.5" text-anchor="end">10</text>
<rect x="202" y="3002" width="6" height="8" fill="#000"/>
<rect x="192" y="2928" width="16" height="8" fill="#000"/>
<text transform="translate(179.5,2944.01) scale(1,1.03)" font-size="41.5" text-anchor="end">15</text>
<rect x="202" y="2854" width="6" height="8" fill="#000"/>
<rect x="192" y="2780" width="16" height="8" fill="#000"/>
<text transform="translate(179.5,2796.34) scale(1,1.03)" font-size="41.5" text-anchor="end">20</text>
<rect x="202" y="2707" width="6" height="8" fill="#000"/>
<rect x="192" y="2633" width="16" height="8" fill="#000"/>
<text transform="translate(179.5,2648.68) scale(1,1.03)" font-size="41.5" text-anchor="end">25</text>
<rect x="202" y="2559" width="6" height="8" fill="#000"/>
<rect x="192" y="2485" width="16" height="8" fill="#000"/>
<text transform="translate(179.5,2501.01) scale(1,1.03)" font-size="41.5" text-anchor="end">30</text>
<rect x="208" y="3453" width="8" height="6" fill="#000"/>
<rect x="295" y="3453" width="8" height="15" fill="#000"/>
<text transform="translate(299,3513) scale(1,1.03)" font-size="41.5" text-anchor="middle">0</text>
<rect x="382" y="3453" width="8" height="6" fill="#000"/>
<rect x="469" y="3453" width="8" height="15" fill="#000"/>
<text transform="translate(473,3513) scale(1,1.03)" font-size="41.5" text-anchor="middle">100</text>
<rect x="556" y="3453" width="8" height="6" fill="#000"/>
<rect x="643" y="3453" width="8" height="15" fill="#000"/>
<text transform="translate(647,3513) scale(1,1.03)" font-size="41.5" text-anchor="middle">200</text>
<rect x="730" y="3453" width="8" height="6" fill="#000"/>
<rect x="817" y="3453" width="8" height="15" fill="#000"/>
<text transform="translate(821,3513) scale(1,1.03)" font-size="41.5" text-anchor="middle">300</text>
<rect x="904" y="3453" width="8" height="6" fill="#000"/>
<rect x="991" y="3453" width="8" height="15" fill="#000"/>
<text transform="translate(995,3513) scale(1,1.03)" font-size="41.5" text-anchor="middle">400</text>
<rect x="1078" y="3453" width="8" height="6" fill="#000"/>
<rect x="1165" y="3453" width="8" height="15" fill="#000"/>
<text transform="translate(1169,3513) scale(1,1.03)" font-size="41.5" text-anchor="middle">500</text>
<rect x="1252" y="3453" width="8" height="6" fill="#000"/>
<rect x="1339" y="3453" width="8" height="15" fill="#000"/>
<text transform="translate(1343,3513) scale(1,1.03)" font-size="41.5" text-anchor="middle">600</text>
<rect x="1426" y="3453" width="8" height="6" fill="#000"/>
<text transform="translate(820.5,3590.2) scale(1,1.02)" font-size="51.5" text-anchor="middle">Time(s)</text>
<text transform="translate(102,2968.5) rotate(-90) scale(1,1.04)" font-size="51" text-anchor="middle">Nu<tspan font-size="34" dy="13.5">avg</tspan></text>
<path d="M1079,2578.5 L1192.5,2578.5" fill="none" stroke="#000000" stroke-width="8" stroke-linejoin="round" stroke-linecap="round"/>
<text transform="translate(1208,2596.2) scale(1,1.04)" font-size="51" text-anchor="start">case 1</text>
<path d="M1079,2640 L1192.5,2640" fill="none" stroke="#ff0000" stroke-width="8" stroke-linejoin="round" stroke-linecap="round"/>
<text transform="translate(1208,2657.7) scale(1,1.04)" font-size="51" text-anchor="start">case 2</text>
<path d="M1079,2701.5 L1192.5,2701.5" fill="none" stroke="#0000ff" stroke-width="8" stroke-linejoin="round" stroke-linecap="round"/>
<text transform="translate(1208,2719.2) scale(1,1.04)" font-size="51" text-anchor="start">case 3</text>
<path d="M1079,2763 L1192.5,2763" fill="none" stroke="#00ff00" stroke-width="8" stroke-linejoin="round" stroke-linecap="round"/>
<text transform="translate(1208,2780.7) scale(1,1.04)" font-size="51" text-anchor="start">case 4</text>
</svg></body></html>
